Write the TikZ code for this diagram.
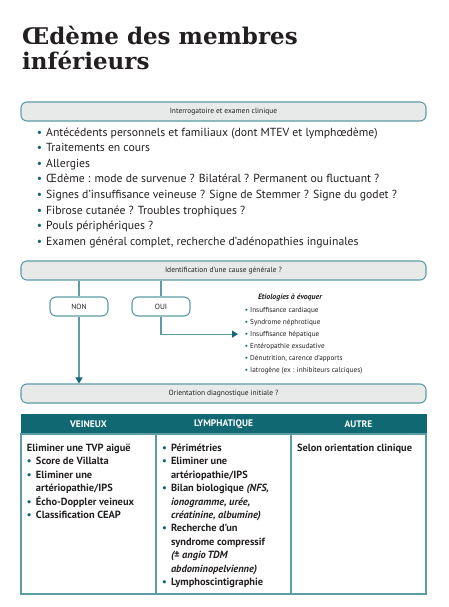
\documentclass[tikz,border=0pt]{standalone}
\usepackage{fontspec}
\setmainfont{PT Sans}
\newfontfamily\titlefont{DejaVu Serif}
\usetikzlibrary{positioning,arrows.meta}

\definecolor{tealline}{HTML}{5C9CA4}
\definecolor{tealdark}{HTML}{0F6872}
\definecolor{bargray}{HTML}{E8EAEA}
\definecolor{inkgray}{HTML}{231F20}

\newcommand{\clindot}{\llap{\textcolor{tealdark}{\textbullet}\hspace{4pt}}}
\newcommand{\etiodot}{\llap{\textcolor{tealdark}{\textbullet}\hspace{2pt}}}
\newcommand{\celldot}{\par\hangindent=9pt\hangafter=1\noindent\makebox[9pt][l]{\textcolor{tealdark}{\textbullet}}}
\newcommand{\cellbox}[1]{\parbox[t][140pt][t]{123pt}{\raggedright #1}}

\begin{document}
\begin{tikzpicture}[x=1pt, y=-1pt, text=inkgray,
  headline/.style={anchor=base west, inner sep=0pt, font=\titlefont\bfseries\fontsize{23}{25}\selectfont},
  stepbar/.style={draw=tealline, line width=1.1pt, fill=bargray, rounded corners=6pt, minimum width=405pt, minimum height=19pt, inner sep=0pt, font=\fontsize{7.5}{8}\selectfont},
  answer/.style={draw=tealline, line width=1.1pt, fill=white, rounded corners=6pt, minimum width=58pt, minimum height=19pt, inner sep=0pt, font=\fontsize{7.5}{8}\selectfont},
  clinitem/.style={anchor=base west, inner sep=0pt, font=\fontsize{11.7}{12}\selectfont},
  etioitem/.style={anchor=base west, inner sep=0pt, font=\fontsize{7.2}{8}\selectfont},
  link/.style={draw=tealline, line width=1.1pt},
  arrow/.style={link, -{Triangle[length=6pt, width=7pt, color=tealdark]}},
  headcell/.style={fill=tealdark, draw=tealdark, line width=1pt, text=white, minimum width=135pt, minimum height=20pt, inner sep=0pt, outer sep=0pt, font=\bfseries\fontsize{9.5}{10}\selectfont},
  bodycell/.style={draw=tealline, line width=1.1pt, minimum width=135pt, inner xsep=6pt, inner ysep=10pt, outer sep=0pt, font=\bfseries\fontsize{10.4}{13.4}\selectfont}]
\useasboundingbox (0,0) rectangle (448,607);

% titre
\node[headline] (title-a) at (22,45) {Œdème des membres};
\node[headline] (title-b) at (22,70) {inférieurs};

% interrogatoire
\node[stepbar] (interro) at (223.5,111.5) {Interrogatoire et examen clinique};
\foreach \txt [count=\n] in {Antécédents personnels et familiaux (dont MTEV et lymphœdème),
    Traitements en cours, Allergies,
    Œdème : mode de survenue ? Bilatéral ? Permanent ou fluctuant ?,
    Signes d’insuffisance veineuse ? Signe de Stemmer ? Signe du godet ?,
    Fibrose cutanée ? Troubles trophiques ?, Pouls périphériques ?,
    {Examen général complet, recherche d’adénopathies inguinales}}
  \node[clinitem] (clin-\n) at (46,{136+15.6*(\n-1)}) {\clindot\txt};

% cause generale
\node[stepbar] (cause) at (223.5,270.5) {Identification d’une cause générale ?};
\node[answer] (non) at (79,306.5) {NON};
\node[answer] (oui) at (161,306.5) {OUI};

\node[etioitem, anchor=base, font=\bfseries\itshape\fontsize{7.8}{8}\selectfont] (etio) at (290,299) {Etiologies à évoquer};
\foreach \txt [count=\n] in {Insuffisance cardiaque, Syndrome néphrotique,
    Insuffisance hépatique, Entéropathie exsudative,
    {Dénutrition, carence d’apports}, Iatrogène (ex : inhibiteurs calciques)}
  \node[etioitem] (etio-\n) at (250,{312+12*(\n-1)}) {\etiodot\txt};

% orientation
\node[stepbar] (orient) at (223.5,393.5) {Orientation diagnostique initiale ?};

\draw[link] (cause.south -| non.north) -- (non.north);
\draw[arrow] (non.south) -- (non.south |- orient.north);
\draw[link] (cause.south -| oui.north) -- (oui.north);
\draw[arrow, shorten >=12pt] (oui.south) |- (etio-3.west);

% tableau
\node[headcell] (veineux) at (88.5,424) {VEINEUX};
\node[headcell, right=0pt of veineux] (lymph) {LYMPHATIQUE};
\node[headcell, right=0pt of lymph] (autre) {AUTRE};

\node[bodycell, below=0pt of veineux] (veineux-body) {\cellbox{%
  Eliminer une TVP aiguë
  \celldot Score de Villalta
  \celldot Eliminer une\newline artériopathie/IPS
  \celldot Écho-Doppler veineux
  \celldot Classification CEAP}};
\node[bodycell, below=0pt of lymph] (lymph-body) {\cellbox{%
  \celldot Périmétries
  \celldot Eliminer une\newline artériopathie/IPS
  \celldot Bilan biologique \textit{(NFS,\newline ionogramme, urée,\newline créatinine, albumine)}
  \celldot Recherche d’un\newline syndrome compressif\newline \textit{(± angio\,TDM\newline abdominopelvienne)}
  \celldot Lymphoscintigraphie}};
\node[bodycell, below=0pt of autre] (autre-body) {\cellbox{%
  Selon orientation clinique}};
\end{tikzpicture}
\end{document}
